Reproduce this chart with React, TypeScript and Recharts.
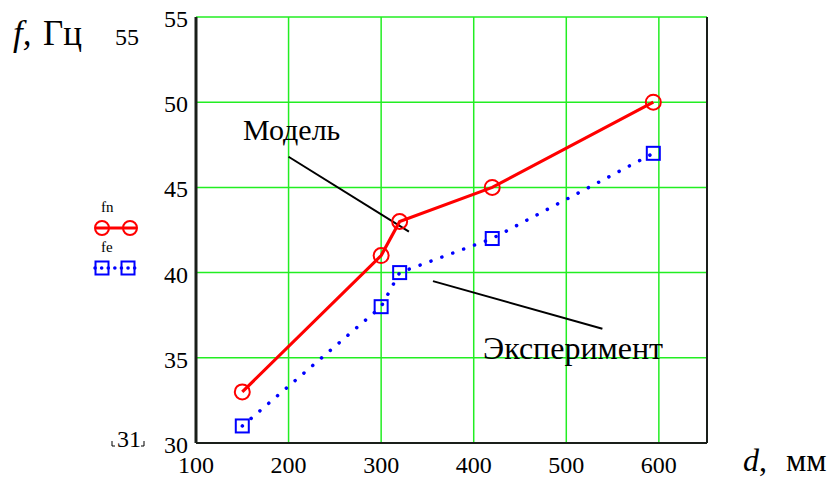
import React from "react";
import { ComposedChart, Line, XAxis, YAxis, CartesianGrid, ReferenceLine } from "recharts";

const dValues = [150, 300, 320, 420, 594];
const fnValues = [33, 41, 43, 45, 50];
const feValues = [31, 38, 40, 42, 47];
const xTicks = [100, 200, 300, 400, 500, 600];
const yTicks = [30, 35, 40, 45, 50, 55];
const modelPointer = [{ x: 200, y: 46.8 }, { x: 330, y: 42.4 }];
const expPointer = [{ x: 356, y: 39.5 }, { x: 539, y: 36.7 }];

const data = dValues.map((d, i) => ({ d, fn: fnValues[i], fe: feValues[i] }));

const FONT = "Liberation Serif";
const RED = "#ff0000";
const BLUE = "#0000ff";
const GRID = "#22ee22";
const DARK = "#1a1f1a";

const XTick = (props: any) => {
  const { x, y, payload } = props;
  return (
    <text x={x} y={y + 30} textAnchor="middle" fontFamily={FONT} fontSize={24} fill="#000">
      {payload.value}
    </text>
  );
};

const YTick = (props: any) => {
  const { y, payload } = props;
  return (
    <text x={188} y={y + 10} textAnchor="end" fontFamily={FONT} fontSize={24} fill="#000">
      {payload.value}
    </text>
  );
};

const CircleDot = (props: any) => {
  const { cx, cy, index } = props;
  return <circle key={"c" + index} cx={cx} cy={cy} r={7.5} fill="none" stroke={RED} strokeWidth={2} />;
};

const SquareDot = (props: any) => {
  const { cx, cy, index } = props;
  return <rect key={"s" + index} x={cx - 6.5} y={cy - 6.5} width={13} height={13} fill="none" stroke={BLUE} strokeWidth={2} />;
};

export default function App() {
  return (
    <div style={{ position: "absolute", left: 0, top: 0, width: 834, height: 487, background: "#fff" }}>
      <ComposedChart width={834} height={487} data={data} margin={{ top: 17, right: 127, bottom: 0, left: 0 }}>
        <CartesianGrid stroke={GRID} strokeWidth={1.5} />
        <XAxis
          dataKey="d"
          type="number"
          domain={[100, 652]}
          ticks={xTicks}
          allowDataOverflow
          height={44}
          tickSize={0}
          tickMargin={0}
          tickLine={false}
          axisLine={{ stroke: DARK, strokeWidth: 2 }}
          tick={<XTick />}
        />
        <YAxis
          type="number"
          domain={[30, 55]}
          ticks={yTicks}
          allowDataOverflow
          width={196}
          tickSize={0}
          tickMargin={0}
          tickLine={false}
          axisLine={{ stroke: DARK, strokeWidth: 3 }}
          tick={<YTick />}
        />
        <ReferenceLine x={652} stroke={DARK} strokeWidth={2} />
        <ReferenceLine segment={modelPointer} stroke="#000" strokeWidth={2} />
        <ReferenceLine segment={expPointer} stroke="#000" strokeWidth={2} />
        <Line
          dataKey="fn"
          stroke={RED}
          strokeWidth={3.2}
          isAnimationActive={false}
          dot={<CircleDot />}
          activeDot={false}
        />
        <Line
          dataKey="fe"
          stroke={BLUE}
          strokeWidth={3.5}
          strokeDasharray="0.1 11.5"
          strokeLinecap="round"
          isAnimationActive={false}
          dot={<SquareDot />}
          activeDot={false}
        />
      </ComposedChart>
      <svg
        width={834}
        height={487}
        style={{ position: "absolute", left: 0, top: 0, pointerEvents: "none" }}
        fontFamily={FONT}
      >
        <text x={13} y={45} fontSize={35} fill="#000" fontFamily={FONT} fontStyle="italic">f,</text>
        <text x={43} y={45} fontSize={35} fill="#000" fontFamily={FONT}>Гц</text>
        <text x={115} y={45} fontSize={24} fill="#000" fontFamily={FONT}>55</text>
        <text x={117} y={447} fontSize={24} fill="#000" fontFamily={FONT}>31</text>
        <path d="M112 441 V446 H115" stroke="#000" strokeWidth={1} fill="none" />
        <path d="M144 441 V446 H141" stroke="#000" strokeWidth={1} fill="none" />
        <text x={743} y={471} fontSize={32} fill="#000" fontFamily={FONT}>
          <tspan fontStyle="italic">d</tspan>,
        </text>
        <text x={786} y={471} fontSize={32} fill="#000" fontFamily={FONT}>мм</text>
        <text x={243} y={140} fontSize={30} fill="#000" fontFamily={FONT}>Модель</text>
        <text x={483} y={359} fontSize={32} fill="#000" fontFamily={FONT}>Эксперимент</text>
        <text x={101} y={212} fontSize={15} fill="#000" fontFamily={FONT}>fn</text>
        <line x1={95} y1={228} x2={137} y2={228} stroke={RED} strokeWidth={3} />
        <circle cx={102} cy={228} r={7} fill="none" stroke={RED} strokeWidth={2} />
        <circle cx={130} cy={228} r={7} fill="none" stroke={RED} strokeWidth={2} />
        <text x={101} y={252} fontSize={15} fill="#000" fontFamily={FONT}>fe</text>
        <line x1={95} y1={268} x2={137} y2={268} stroke={BLUE} strokeWidth={3.5} strokeDasharray="0.1 6.5" strokeLinecap="round" />
        <rect x={95.5} y={261.5} width={13} height={13} fill="none" stroke={BLUE} strokeWidth={2} />
        <rect x={121.5} y={261.5} width={13} height={13} fill="none" stroke={BLUE} strokeWidth={2} />
      </svg>
    </div>
  );
}
